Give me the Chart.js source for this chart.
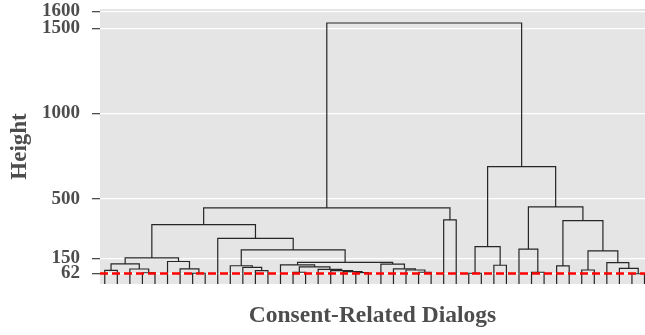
<!DOCTYPE html>
<html><head><meta charset="utf-8">
<script src="https://cdn.jsdelivr.net/npm/chart.js@4.4.1/dist/chart.umd.min.js"></script>
<style>html,body{margin:0;padding:0;background:#fff;}canvas{display:block;}</style>
</head><body>
<canvas id="c" width="645" height="335"></canvas>
<script>
// Leaf ids in plotting order (1..44)
const leafOrder = [1,2,3,4,5,6,7,8,9,10,11,12,13,14,15,16,17,18,19,20,21,22,23,24,25,26,27,28,29,30,31,32,33,34,35,36,37,38,39,40,41,42,43,44];
// hclust-style merges: negative = leaf id, positive = earlier merge (1-based)
const merges = [
  [-1,-2],[-4,-5],[-3,2],[1,3],[-8,-9],[-7,5],[-6,6],[4,7],
  [-13,-14],[-12,9],[-11,10],
  [-21,-22],[-20,12],[-19,13],[-18,14],[-16,-17],[16,15],[-15,17],
  [-26,-27],[-25,19],[-24,20],[-23,21],[18,22],[11,23],[-10,24],[8,25],
  [-28,-29],[26,27],
  [-30,-31],[-32,-33],[29,30],[-35,-36],[-34,32],[-37,-38],[-39,-40],
  [-43,-44],[-42,36],[-41,37],[35,38],[34,39],[33,40],[31,41],[28,42]
];
// merge heights
const heights = [
  80,66,88,118,63,89,132,153,
  78,97,107,
  67,73,79,86,69,100,112,
  69,82,89,117,127,200,268,348,
  376,446,
  63,110,219,69,205,106,82,
  60,92,125,194,372,452,689,1531
];
const yTicks = [62,150,500,1000,1500,1600];
const cutHeight = 62;
const xTitle = 'Consent-Related Dialogs';
const yTitle = 'Height';

const leafPos = {};
leafOrder.forEach((id, i) => { leafPos[id] = i; });
const nodeX = [], nodeH = [];
const cx = c => c < 0 ? leafPos[-c] : nodeX[c - 1];
const ch = c => c < 0 ? 0 : nodeH[c - 1];
const segs = merges.map(([a, b], k) => {
  const xa = cx(a), xb = cx(b), h = heights[k];
  nodeX[k] = (xa + xb) / 2; nodeH[k] = h;
  return [{x: xa, y: ch(a)}, {x: xa, y: h}, {x: xb, y: h}, {x: xb, y: ch(b)}];
});

const xMin = -0.38, xMax = 43.04;
const datasets = segs.map(d => ({
  data: d, showLine: true, pointRadius: 0, borderColor: '#262626',
  borderWidth: 1.2, fill: false, tension: 0, order: 1
}));
datasets.push({
  data: [{x: xMin, y: cutHeight}, {x: xMax, y: cutHeight}],
  showLine: true, pointRadius: 0, borderColor: '#FF0000', borderWidth: 2.5,
  borderDash: [8, 4], fill: false, order: 0
});

const bg = {id: 'bg', beforeDraw(chart) {
  const {ctx, chartArea: a} = chart;
  ctx.save(); ctx.fillStyle = '#E5E5E5';
  ctx.fillRect(a.left, a.top, a.right - a.left, a.bottom - a.top);
  ctx.restore();
}};

const serif = 'Liberation Serif, Times New Roman, serif';
new Chart(document.getElementById('c'), {
  type: 'scatter',
  data: {datasets},
  plugins: [bg],
  options: {
    responsive: false, animation: false, devicePixelRatio: 1,
    layout: {padding: {top: 9, left: 0, right: 0, bottom: 0}},
    plugins: {legend: {display: false}, tooltip: {enabled: false}},
    scales: {
      x: {
        type: 'linear', min: xMin, max: xMax,
        ticks: {display: false}, grid: {display: false}, border: {display: false},
        title: {display: true, text: xTitle, color: '#4D4D4D',
          font: {family: serif, size: 23.5, weight: 'bold'}, padding: {top: 0, bottom: 5}},
        afterFit(s) { s.height = 51; s.paddingLeft = 0; s.paddingRight = 0; }
      },
      y: {
        type: 'linear', min: 0, max: 1613,
        afterBuildTicks(s) { s.ticks = yTicks.map(v => ({value: v})); },
        ticks: {autoSkip: false, color: '#4D4D4D', padding: 12,
          font: {family: serif, size: 19, weight: 'bold'},
          callback: v => String(v)},
        grid: {color: '#FFFFFF', lineWidth: 1.3, tickColor: '#4D4D4D', tickLength: 8},
        border: {display: false},
        title: {display: true, text: yTitle, color: '#4D4D4D',
          font: {family: serif, size: 23, weight: 'bold'}, padding: {top: 6, bottom: 0}},
        afterFit(s) { s.width = 100; s.paddingTop = 0; s.paddingBottom = 0; }
      }
    }
  }
});
</script>
</body></html>
